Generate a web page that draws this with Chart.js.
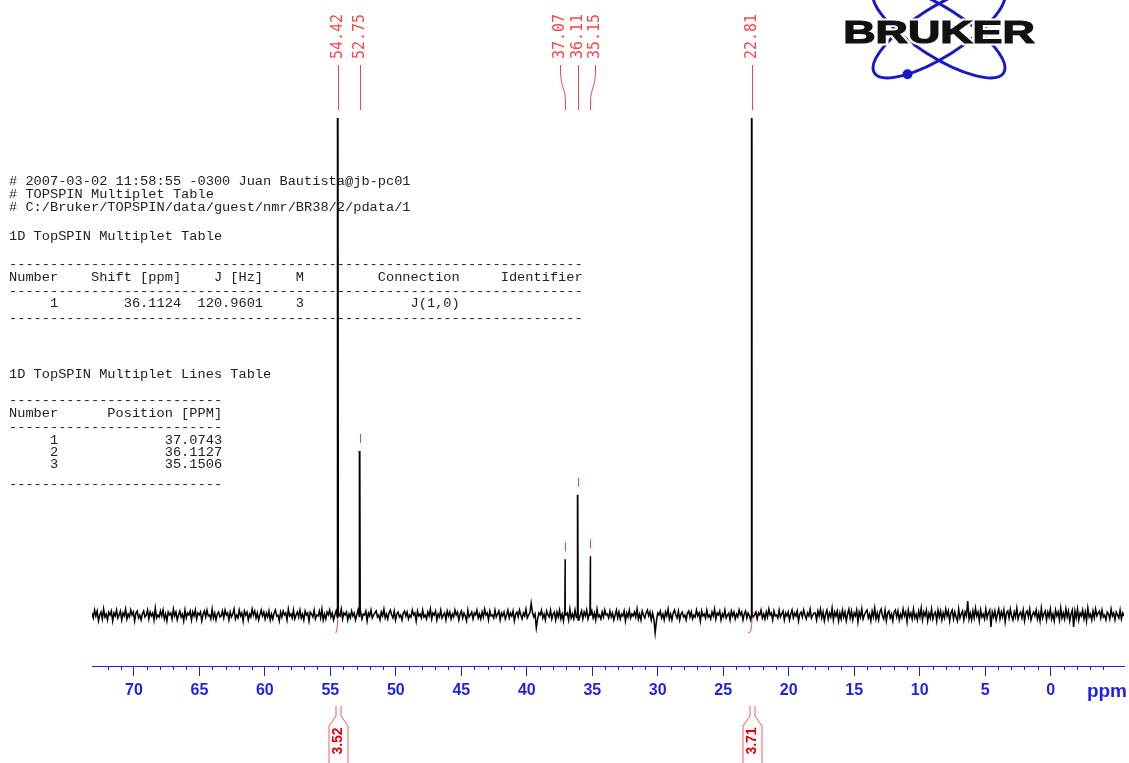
<!DOCTYPE html>
<html>
<head>
<meta charset="utf-8">
<script src="https://cdn.jsdelivr.net/npm/chart.js@4.4.0/dist/chart.umd.min.js"></script>
<style>
  html, body { margin: 0; padding: 0; background: #fff; overflow: hidden; }
  canvas { display: block; }
</style>
</head>
<body>
<canvas id="nmr" width="1129" height="763"></canvas>
<script>
// picked peaks (ppm) and their heights (arbitrary intensity, tall ones are clipped)
const peakShifts = [54.42, 52.75, 37.07, 36.11, 35.15, 22.81];
const peakHeights = [500, 165, 56, 121, 59, 500];

// baseline noise read across the plotted window, left (73.2 ppm) to right (-5.6 ppm)
const noiseFrom = 73.2;
const noiseTo = -5.6;
const noise = [
  2,-3,5,-1,4,-6,0,3,-4,6,-2,1,-5,3,0,4,-6,2,-1,5,
  -3,0,4,-5,2,-1,6,-4,1,-2,5,0,3,-6,2,4,-3,0,-5,1,
  4,-2,0,5,-4,3,-1,2,-5,7,-3,0,-2,4,-1,5,-4,1,-6,3,
  0,2,-4,6,-1,3,-5,0,4,-2,1,-6,5,-3,2,0,4,-5,3,-1,
  5,-4,2,0,3,-6,1,4,-2,5,-1,0,-4,6,-3,2,-5,1,3,-2,
  -1,4,-3,5,0,2,-5,3,-2,1,6,-4,0,-3,5,-1,2,-6,4,0,
  3,-5,1,-2,6,0,4,-3,2,-5,0,5,-1,3,-4,2,-2,4,-5,1,
  -4,2,5,-1,0,-6,3,-2,4,0,2,-5,6,-1,1,-3,5,-4,0,3,
  -2,5,-3,1,-5,4,0,2,-6,3,1,-2,5,-4,0,-1,4,-3,6,-5,
  1,-4,3,0,5,-2,2,-5,0,4,-3,1,-1,6,-4,2,0,3,-5,1,
  -3,4,-1,2,-5,0,5,-2,3,-4,1,0,4,-6,2,-1,5,-3,0,2,
  4,-2,0,-5,3,-1,6,-3,1,-4,2,5,0,-3,4,-5,1,3,-2,0,
  -5,2,4,-1,3,-4,0,-2,5,0,2,-6,4,-1,1,-3,5,-2,0,-4,
  3,-1,6,-4,2,0,4,-5,1,-2,5,-3,0,2,-5,4,-1,3,-4,1,
  -2,5,0,3,-5,1,4,-3,2,-1,-6,5,-2,0,3,-4,2,0,5,-3,
  1,-4,3,-2,6,0,2,-5,4,-1,0,-3,5,-2,1,4,-5,2,-1,3,
  -4,0,5,-3,2,-1,4,-6,1,3,-2,5,0,-4,2,-1,6,-3,0,2,
  12,3,-2,1,-13,-4,2,0,5,-3,1,-5,4,0,-2,5,-4,1,3,-5,
  3,-2,5,-4,1,-6,4,0,2,-5,6,-3,1,-4,5,-2,3,-5,0,4,
  -4,3,-1,5,-4,1,0,4,-3,2,-5,6,-2,0,-4,3,-2,5,0,1,
  -3,4,-2,2,-5,0,5,-3,3,-4,1,-1,4,-6,2,-2,5,-3,1,-1,
  3,-2,6,-4,1,-5,4,0,-3,2,5,-1,3,-5,2,-4,-18,-6,2,0,
  4,-3,1,-5,3,-1,6,-4,1,-5,2,5,0,-3,4,-5,1,3,-2,0,
  -5,2,4,-2,3,-4,0,-2,5,-1,2,-6,4,-1,1,-3,5,-2,0,-4,
  3,-1,6,-4,2,0,4,-5,1,-2,5,-3,0,2,-5,4,-1,3,-4,1,
  -2,5,0,3,-5,1,4,-3,2,-1,-5,5,-2,0,3,-4,2,0,5,-3,
  1,-4,3,-2,6,0,2,-5,4,-1,0,-3,5,-2,1,4,-5,2,-1,3,
  -5,1,5,-3,2,-1,4,-6,1,3,-2,5,0,-4,2,-1,6,-3,0,2,
  2,-5,4,-1,6,-3,3,-6,1,5,-4,2,-2,7,-5,3,-1,4,-6,2,
  -4,5,-2,3,-6,1,6,-3,4,-5,2,-1,5,-7,3,-2,6,-4,0,3,
  5,-3,1,-6,4,-2,7,-4,2,-5,3,6,-1,-4,5,-6,2,4,-3,1,
  -6,3,5,-2,4,-5,1,-3,6,-1,3,-7,5,-2,2,-4,6,-3,1,-5,
  4,-2,7,-5,3,-1,5,-6,2,-3,6,-4,1,3,-6,5,-2,4,-5,2,
  -3,6,-1,4,-6,2,5,-4,3,-2,-6,6,-3,1,4,-5,3,-1,14,-4,
  2,-5,4,-3,7,-1,3,-6,5,-2,1,-4,6,-3,2,5,-12,3,-2,4,
  -5,1,6,-4,3,-2,5,-7,2,4,-3,6,-1,-5,3,-2,7,-4,1,3,
  -3,5,-6,2,4,-2,6,-5,0,3,-1,5,-4,2,-6,7,-3,1,4,-5,
  3,-2,6,-4,1,-6,5,-1,3,-5,7,-3,2,-4,6,-2,4,-6,1,5,
  -12,4,-3,6,-5,2,-1,5,-4,3,-6,7,-2,1,-5,4,-3,6,-1,2,
  4,-3,5,-2,0,-5,3,1,-4,6,-1,2,-5,3,0,-3,5,-4,2,-1
];

// integrals
const integralCenters = [54.42, 22.81];
const integralValues = [3.52, 3.71];
const integralCurve1 = [
  {x: 54.58, y: -18}, {x: 54.50, y: -14}, {x: 54.45, y: -8},
  {x: 54.41, y: -1}, {x: 54.32, y: 1}, {x: 54.25, y: 1}
];
const integralCurve2 = [
  {x: 23.12, y: -18}, {x: 22.95, y: -17}, {x: 22.87, y: -14},
  {x: 22.81, y: -6}, {x: 22.77, y: 1}, {x: 22.68, y: 3}
];

// multiplet report
const multipletShift = 36.1124;
const multipletJ = 120.9601;
const multipletM = 3;
const multipletLines = [37.0743, 36.1127, 35.1506];

const axisMin = -5.6;
const axisMax = 73.2;

const BLUE = '#1e1ef0';
const RED = 'rgba(255,45,45,0.9)';

// spectrum trace = noise samples + sharp lines at the picked shifts
const spectrum = noise.map((v, i) => ({
  x: noiseFrom - i * (noiseFrom - noiseTo) / (noise.length - 1),
  y: v
}));
peakShifts.forEach((p, k) => {
  spectrum.push({x: p + 0.03, y: 0}, {x: p, y: peakHeights[k]}, {x: p - 0.03, y: 0});
});
spectrum.sort((a, b) => a.x - b.x);

function spreadLabels(xs, gap) {
  let clusters = xs.map((x, i) => ({idx: [i], c: x}));
  let merged = true;
  while (merged) {
    merged = false;
    for (let i = 0; i < clusters.length - 1; i++) {
      const a = clusters[i], b = clusters[i + 1];
      const aRight = a.c + (a.idx.length - 1) / 2 * gap;
      const bLeft = b.c - (b.idx.length - 1) / 2 * gap;
      if (bLeft - aRight < gap) {
        const idx = a.idx.concat(b.idx);
        const c = idx.reduce((s, j) => s + xs[j], 0) / idx.length;
        clusters.splice(i, 2, {idx, c});
        merged = true;
        break;
      }
    }
  }
  const out = [];
  clusters.forEach(cl => {
    cl.idx.forEach((j, k) => {
      out[j] = cl.c + (k - (cl.idx.length - 1) / 2) * gap;
    });
  });
  return out;
}

const textPlugin = {
  id: 'textBlock',
  beforeDatasetsDraw(chart) {
    const ctx = chart.ctx;
    ctx.save();
    ctx.font = '13.67px "Liberation Mono"';
    ctx.fillStyle = '#222';
    ctx.textBaseline = 'middle';
    ctx.textAlign = 'left';
    const d70 = '-'.repeat(70);
    const d26 = '-'.repeat(26);
    const rows = [
      [181, '# 2007-03-02 11:58:55 -0300 Juan Bautista@jb-pc01'],
      [194, '# TOPSPIN Multiplet Table'],
      [207, '# C:/Bruker/TOPSPIN/data/guest/nmr/BR38/2/pdata/1'],
      [236, '1D TopSPIN Multiplet Table'],
      [264, d70],
      [277, 'Number    Shift [ppm]    J [Hz]    M         Connection     Identifier'],
      [291, d70],
      [303, '     1' + multipletShift.toFixed(4).padStart(15) + multipletJ.toFixed(4).padStart(10) +
            String(multipletM).padStart(5) + 'J(1,0)'.padStart(19)],
      [318, d70],
      [374, '1D TopSPIN Multiplet Lines Table'],
      [400, d26],
      [413, 'Number      Position [PPM]'],
      [427, d26]
    ];
    multipletLines.forEach((v, i) => {
      rows.push([440 + i * 12, String(i + 1).padStart(6) + v.toFixed(4).padStart(20)]);
    });
    rows.push([484, d26]);
    rows.forEach(r => ctx.fillText(r[1], 9, r[0]));

    // Bruker logo
    const cx = 939, cy = 32, a = 76.5, b = 24.5, th = 0.566;
    ctx.strokeStyle = '#1818c8';
    ctx.lineWidth = 3;
    ctx.beginPath();
    ctx.ellipse(cx, cy, a, b, -th, 0, Math.PI * 2);
    ctx.stroke();
    ctx.beginPath();
    ctx.ellipse(cx, cy, a, b, th, 0, Math.PI * 2);
    ctx.stroke();
    const t = 2.27;
    const dx = cx + a * Math.cos(t) * Math.cos(-th) - b * Math.sin(t) * Math.sin(-th);
    const dy = cy + a * Math.cos(t) * Math.sin(-th) + b * Math.sin(t) * Math.cos(-th);
    ctx.fillStyle = '#1818c8';
    ctx.beginPath();
    ctx.arc(dx, dy, 5, 0, Math.PI * 2);
    ctx.fill();
    ctx.save();
    ctx.translate(cx, 34);
    ctx.scale(1.4, 1);
    ctx.font = 'bold 32px "Liberation Sans"';
    ctx.textAlign = 'center';
    ctx.textBaseline = 'middle';
    ctx.lineWidth = 5;
    ctx.strokeStyle = '#fff';
    ctx.strokeText('BRUKER', 0, 0);
    ctx.fillStyle = '#111';
    ctx.fillText('BRUKER', 0, 0);
    ctx.lineWidth = 1.2;
    ctx.strokeStyle = '#111';
    ctx.strokeText('BRUKER', 0, 0);
    ctx.restore();
    ctx.restore();
  }
};

const annotPlugin = {
  id: 'annotations',
  afterDraw(chart) {
    const ctx = chart.ctx;
    const xs = chart.scales.x;
    const ys = chart.scales.y;
    const bottom = chart.chartArea.bottom;
    ctx.save();

    // minor ticks every 1 ppm
    ctx.strokeStyle = BLUE;
    ctx.lineWidth = 1;
    ctx.beginPath();
    xs.ticks.forEach(tk => {
      if (Number.isInteger(tk.value) && tk.value % 5 !== 0) {
        const p = Math.round(xs.getPixelForValue(tk.value)) + 0.5;
        ctx.moveTo(p, bottom);
        ctx.lineTo(p, bottom + 4);
      }
    });
    ctx.stroke();
    ctx.fillStyle = BLUE;
    ctx.font = 'bold 19px "Liberation Sans"';
    ctx.textAlign = 'right';
    ctx.textBaseline = 'middle';
    ctx.fillText('ppm', 1127, 692);

    // peak labels, connectors and pick markers
    const px = peakShifts.map(p => xs.getPixelForValue(p));
    const lx = spreadLabels(px, 17.6);
    ctx.strokeStyle = RED;
    ctx.lineWidth = 1;
    ctx.beginPath();
    px.forEach((p, i) => {
      const l = lx[i];
      const pr = Math.round(p) + 0.5, lr = Math.round(l) + 0.5;
      ctx.moveTo(lr, 65);
      if (Math.abs(lr - pr) < 1) {
        ctx.lineTo(pr, 110);
      } else {
        ctx.lineTo(lr, 70);
        ctx.bezierCurveTo(lr, 88, pr, 88, pr, 102);
        ctx.lineTo(pr, 110);
      }
      const top = ys.getPixelForValue(peakHeights[i]);
      if (top > 130) {
        ctx.moveTo(pr, top - 17);
        ctx.lineTo(pr, top - 8);
      }
    });
    ctx.stroke();
    ctx.fillStyle = RED;
    ctx.font = '15px "DejaVu Sans Mono"';
    ctx.textAlign = 'left';
    ctx.textBaseline = 'middle';
    peakShifts.forEach((p, i) => {
      ctx.save();
      ctx.translate(Math.round(lx[i]) + 0.5, 59);
      ctx.rotate(-Math.PI / 2);
      ctx.fillText(p.toFixed(2), 0, 0);
      ctx.restore();
    });

    // integral brackets under the axis
    integralCenters.forEach((c, i) => {
      const p = Math.round(xs.getPixelForValue(c)) + 0.5;
      ctx.strokeStyle = 'rgba(255,70,70,0.9)';
      ctx.beginPath();
      ctx.moveTo(p - 2.5, 706); ctx.lineTo(p - 2.5, 716); ctx.lineTo(p - 9.5, 726); ctx.lineTo(p - 9.5, 764);
      ctx.moveTo(p + 2.5, 706); ctx.lineTo(p + 2.5, 716); ctx.lineTo(p + 9.5, 726); ctx.lineTo(p + 9.5, 764);
      ctx.stroke();
      ctx.save();
      ctx.translate(p, 741);
      ctx.rotate(-Math.PI / 2);
      ctx.fillStyle = '#e80000';
      ctx.font = 'bold 14px "Liberation Sans"';
      ctx.textAlign = 'center';
      ctx.textBaseline = 'middle';
      ctx.fillText(integralValues[i].toFixed(2), 0, 0);
      ctx.restore();
    });
    ctx.restore();
  }
};

const ctx = document.getElementById('nmr').getContext('2d');
new Chart(ctx, {
  type: 'line',
  data: {
    datasets: [
      {
        data: spectrum,
        borderColor: '#000',
        borderWidth: 1.5,
        pointRadius: 0,
        tension: 0
      },
      {
        data: integralCurve1,
        borderColor: 'rgba(255,50,50,0.9)',
        borderWidth: 1,
        pointRadius: 0,
        tension: 0.4
      },
      {
        data: integralCurve2,
        borderColor: 'rgba(255,50,50,0.9)',
        borderWidth: 1,
        pointRadius: 0,
        tension: 0.4
      }
    ]
  },
  options: {
    responsive: false,
    animation: false,
    devicePixelRatio: 1,
    layout: { padding: { left: 92, right: 2, top: 0, bottom: 0 } },
    plugins: {
      legend: { display: false },
      tooltip: { enabled: false }
    },
    scales: {
      x: {
        type: 'linear',
        reverse: true,
        min: axisMin,
        max: axisMax,
        afterFit: s => { s.height = 97; },
        border: { color: BLUE, width: 1 },
        grid: {
          drawOnChartArea: false,
          tickLength: 10,
          tickColor: c => (c.tick && Number.isInteger(c.tick.value) && c.tick.value % 5 === 0) ? BLUE : 'rgba(0,0,0,0)'
        },
        ticks: {
          stepSize: 1,
          autoSkip: false,
          maxRotation: 0,
          minRotation: 0,
          padding: 5,
          color: BLUE,
          font: { family: 'Liberation Sans', size: 16, weight: 'bold' },
          callback: v => (Number.isInteger(v) && v % 5 === 0 && v > -5) ? String(v) : ''
        }
      },
      y: {
        display: false,
        min: -51.3,
        max: 618.7
      }
    }
  },
  plugins: [textPlugin, annotPlugin]
});
</script>
</body>
</html>
